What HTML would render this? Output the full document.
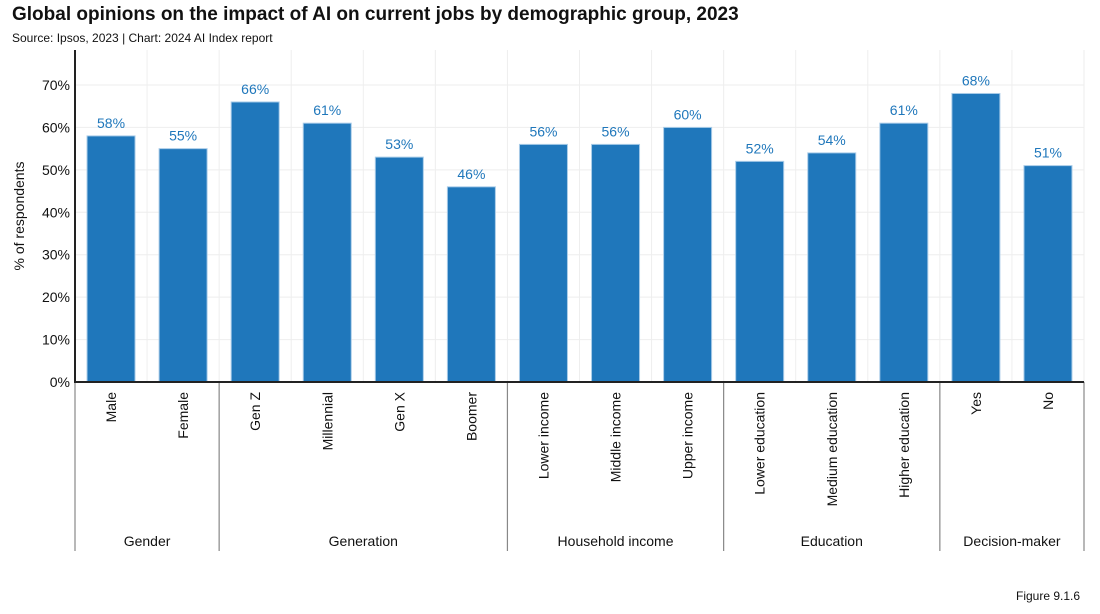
<!DOCTYPE html>
<html><head><meta charset="utf-8"><style>
body{margin:0;background:#fff;font-family:"Liberation Sans",sans-serif;}
#wrap{position:relative;width:1100px;height:614px;overflow:hidden}
h1{position:absolute;left:12px;top:4px;margin:0;font-size:19px;font-weight:bold;color:#111}
.src{position:absolute;left:12px;top:31px;font-size:12px;color:#111}
.fig{position:absolute;left:1016px;top:589px;font-size:12px;color:#111}
</style></head><body>
<div id="wrap">
<h1>Global opinions on the impact of AI on current jobs by demographic group, 2023</h1>
<div class="src">Source: Ipsos, 2023 | Chart: 2024 AI Index report</div>
<svg id="chart" width="1100" height="614" style="position:absolute;left:0;top:0"></svg>
<div class="fig">Figure 9.1.6</div>
</div>
<script>
const categories=["Male","Female","Gen Z","Millennial","Gen X","Boomer","Lower income","Middle income","Upper income","Lower education","Medium education","Higher education","Yes","No"];
const values=[58,55,66,61,53,46,56,56,60,52,54,61,68,51];
const groupNames=["Gender","Generation","Household income","Education","Decision-maker"];
const groupSizes=[2,4,3,3,2];
const yTicks=[0,10,20,30,40,50,60,70];
const svg=document.getElementById('chart');
const NS='http://www.w3.org/2000/svg';
const x0=75,x1=1084,yBase=382,pxPer=4.243,yTop=50;
const slot=(x1-x0)/categories.length;
const xs=i=>x0+slot*i;
const ys=v=>yBase-v*pxPer;
function mk(t,a,txt){const e=document.createElementNS(NS,t);for(const k in a)e.setAttribute(k,a[k]);if(txt!==undefined)e.textContent=txt;svg.appendChild(e);return e;}
for(let i=0;i<=categories.length;i++){
 const e=mk('line',{x1:xs(i),x2:xs(i),y1:yTop,y2:yBase,stroke:'#eeeeee','stroke-width':1});
 
 
}
yTicks.forEach(t=>{
 const g=mk('line',{x1:x0,x2:x1,y1:ys(t),y2:ys(t),stroke:'#eeeeee','stroke-width':1});
 
 
 const l=mk('text',{x:x0-5,y:ys(t)+5,'text-anchor':'end','font-size':14,fill:'#111'},t+'%');
 
 
});
const yt=mk('text',{x:24,y:216,'text-anchor':'middle','font-size':14,fill:'#111',transform:'rotate(-90 24 216)'},'% of respondents');


values.forEach((v,i)=>{
 const cx=xs(i)+slot/2;
 const r=mk('rect',{x:cx-24,y:ys(v),width:48,height:yBase-ys(v),fill:'#1f77bb',stroke:'#a9cce8','stroke-width':1});
 
 
 const t=mk('text',{x:cx,y:ys(v)-8,'text-anchor':'middle','font-size':14,fill:'#1f77bb'},v+'%');
 
 
 const c=mk('text',{x:cx+5,y:392,'text-anchor':'end','font-size':14,fill:'#111',transform:`rotate(-90 ${cx+5} 392)`},categories[i]);
 
 
});
let idx=0;
const sep0=mk('line',{x1:x0,x2:x0,y1:yBase,y2:551,stroke:'#888','stroke-width':1.2});


groupSizes.forEach((n,g)=>{
 const a=xs(idx),b=xs(idx+n);idx+=n;
 const s=mk('line',{x1:b,x2:b,y1:yBase,y2:551,stroke:'#888','stroke-width':1.2});
 
 
 const t=mk('text',{x:(a+b)/2,y:546,'text-anchor':'middle','font-size':14,fill:'#111'},groupNames[g]);
 
 
});
const ax=mk('line',{x1:x0,x2:x0,y1:yTop,y2:yBase+1,stroke:'#222','stroke-width':2});


const bx=mk('line',{x1:x0,x2:x1,y1:yBase,y2:yBase,stroke:'#222','stroke-width':2});


</script>
</body></html>
